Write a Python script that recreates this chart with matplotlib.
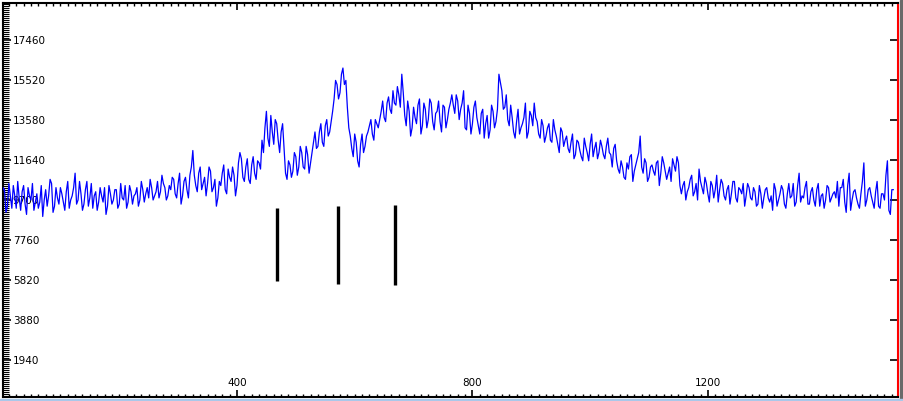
import numpy as np
import matplotlib
matplotlib.use("Agg")
import matplotlib.pyplot as plt
from matplotlib.ticker import MultipleLocator
from matplotlib.patches import Rectangle

# spectrum, one value every 5 channels
step = 5
counts = [
    9600, 10200, 9400, 9900, 10400, 9300, 9800, 10100, 9500, 10300,
    9700, 9200, 10000, 9600, 8900, 10200, 9900, 10500, 9400, 9800,
    10300, 9600, 10100, 9300, 9900, 11000, 9700, 10000, 9500, 10600,
    9800, 9300, 10100, 9600, 9900, 10300, 9400, 10000, 9700, 10200,
    9500, 9800, 10400, 9600, 10100, 9900, 10300, 9700, 10200, 10000,
    9800, 10300, 9900, 10600, 10100, 10500, 9700, 10400, 10800, 10000,
    10500, 9500, 10600, 10200, 10900, 12100, 10400, 11000, 10200, 10800,
    10500, 11100, 10300, 9400, 10600, 11000, 10200, 11200, 10600, 10900,
    10400, 12000, 10800, 11300, 10700, 11400, 11000, 11600, 11200, 12000,
    14000, 12300, 13000, 13600, 12600, 13000, 12200, 10700, 11400, 11100,
    11800, 11300, 12000, 11200, 11900, 11500, 12500, 12200, 13000, 12500,
    13300, 12800, 13500, 14600, 15300, 14900, 16100, 15500, 13200, 12200,
    12900, 11600, 12400, 12000, 12800, 13300, 12900, 13600, 13200, 14000,
    13700, 14400, 14100, 15000, 14300, 14800, 15800, 13800, 14500, 12800,
    14200, 13400, 14600, 13300, 14100, 13600, 14400, 13100, 14000, 13500,
    14300, 13200, 14100, 14800, 13900, 14500, 14100, 15000, 13100, 13900,
    13400, 14500, 13300, 13900, 12700, 13800, 13100, 14000, 13500, 15800,
    15000, 14200, 13600, 14300, 13000, 13500, 12900, 13400, 14400, 13000,
    13800, 14400, 13500, 12700, 13300, 12800, 13400, 12500, 13100, 12400,
    13200, 12300, 12800, 12000, 12900, 11900, 12500, 11800, 12700, 12000,
    12400, 11800, 12500, 12000, 12300, 11700, 12700, 11900, 12200, 11600,
    11000, 11300, 10700, 11200, 11900, 11100, 11700, 12800, 11000, 11500,
    10800, 11400, 10900, 11600, 11000, 11500, 10700, 11300, 11700, 11100,
    11500, 10000, 10600, 10100, 10700, 9900, 10500, 11200, 10300, 10800,
    10000, 10600, 9800, 10900, 10200, 10500, 9700, 10400, 10000, 10600,
    9600, 10200, 10500, 9900, 10300, 9700, 10100, 9500, 10000, 9800,
    10300, 9600, 9200, 10200, 9700, 10400, 9500, 10000, 9800, 10500,
    9600, 11000, 9900, 10300, 9500, 10100, 9700, 10200, 9400, 10000,
    9700, 10300, 9800, 10100, 10600, 10300, 10700, 9100, 11000, 9700,
    10200, 9500, 10000, 11500, 9700, 10300, 9600, 10100, 9400, 10000,
    9700, 11600, 9000, 10200,
]

# readings that sit half a step after each of the values above
counts_between = [
    10300, 9100, 10500, 9300, 9900, 10600, 9200, 10400, 9000, 9900,
    10500, 9600, 9300, 10400, 9700, 9400, 10700, 9100, 10300, 9500,
    10000, 9200, 10600, 9700, 10300, 9500, 10600, 9200, 10200, 9400,
    10500, 9900, 9200, 10300, 9600, 9000, 10400, 9500, 10200, 9300,
    10500, 9700, 9300, 10400, 9500, 10000, 9400, 10600, 9600, 10300,
    10700, 9700, 10100, 9800, 10900, 10300, 9900, 10200, 10700, 9800,
    11000, 9900, 10800, 9800,
    11300, 10900, 10100, 11300, 10500, 9900, 11300, 10100, 10700, 9800,
    10400, 11400, 10000, 10800, 11300, 9900,
    11500, 11700, 10600, 11700, 10500, 11800, 10700, 11500, 12600,
    13200, 12700, 13800, 12400, 13400, 12000, 13400,
    11000, 11600, 10800, 12000,
    10900, 12300, 11300, 12300, 11000,
    12000, 13000, 12300, 13400, 12300, 13600, 13000,
    14000, 15500, 14600, 15800, 15300,
    14200, 12800, 11800, 12500, 11300, 12900,
    12300, 13000, 13600, 12600, 13400,
    13600, 14500, 13500, 14700, 13900, 14400, 15200,
    14200, 14900, 13300, 14000, 13200, 13700, 14300, 12900, 14400, 13200,
    14600, 13500, 13900, 14500, 13000, 14200, 13600, 14400,
    14300, 14800, 13600, 14400, 13200, 14300, 12900, 14200, 13700, 12900,
    14100, 13400, 12700, 14300, 13200, 14100,
    15400, 14100, 14800, 13300,
    13700, 12700, 14100, 13200, 13700, 12700, 14000, 13300,
    13700, 12900, 13600, 12500, 13200, 12600, 13600, 12800, 12000, 13000,
    12600, 12200,
    12500, 11700, 12600, 12100, 11600, 12300, 11600, 12900, 12200, 11700,
    12600,
    11900, 12300, 12000, 11300, 12400, 11200,
    11600, 10800, 11500, 11800, 10600, 11400, 12000, 11300, 11700, 10600,
    11300, 11100, 11500, 10400, 11800, 11100, 11000, 10600, 11400, 11800,
    10400,
    10400, 9700, 10300, 10900, 10100, 9700, 10600, 10000, 10500, 9600,
    10400, 10200, 9600, 10700, 9900, 10200, 9500, 10600, 9800, 10300,
    10000, 9400, 10500, 9800,
    10300, 9400, 10400, 9300, 10200, 9800, 9900, 10500, 9400, 10000,
    10200, 9300, 10500, 9900, 9400, 10400, 9600, 9800, 10600, 9500,
    10300, 9400, 10500, 9900, 9300, 10400, 9600, 10000, 9800, 9400,
    10300, 9600, 10400, 9200, 10100, 9800, 9300, 10600, 9400, 10200,
    9900, 9300, 10600, 9300, 10000, 10900, 9200, 10200,
]

# reference markers
marker_pos = [468, 571, 669]
marker_top = [9310, 9410, 9460]
marker_bottom = [5770, 5630, 5580]

x_all = np.concatenate([np.arange(len(counts)) * step,
                        np.arange(len(counts_between)) * step + step / 2])
y_all = np.concatenate([counts, counts_between])
order = np.argsort(x_all)
x_all, y_all = x_all[order], y_all[order]

fig = plt.figure(figsize=(9.04, 4.01), dpi=100)
ax = fig.add_axes([3 / 904, 4 / 401, 895 / 904, 394 / 401])

ax.plot(x_all, y_all, color="#0000ff", linewidth=0.9, zorder=3)
ax.vlines(marker_pos, marker_bottom, marker_top, color="black", linewidth=2.4, zorder=3)

ax.set_xlim(2.5, 1523)
ax.set_ylim(145, 19254)

ax.xaxis.set_major_locator(MultipleLocator(400))
ax.xaxis.set_minor_locator(MultipleLocator(12.5))
ax.yaxis.set_major_locator(MultipleLocator(1940))
ax.yaxis.set_minor_locator(MultipleLocator(97))

ax.tick_params(which="both", direction="in", top=True, right=True, labelsize=7.5, colors="black")
ax.tick_params(axis="x", which="major", length=5, width=1.2, pad=-13.7)
ax.tick_params(axis="x", which="minor", length=2, width=1)
ax.tick_params(axis="y", which="major", length=6, width=1.2, pad=-7)
ax.tick_params(axis="y", which="minor", length=4, width=0.8, right=False)
for lbl in ax.get_yticklabels():
    lbl.set_horizontalalignment("left")

for side in ["left", "top", "bottom"]:
    ax.spines[side].set_linewidth(1.5)
ax.spines["right"].set_color("red")
ax.spines["right"].set_linewidth(1.5)

# window border on the right and bottom
fig.patches.append(Rectangle((900 / 904, 0), 4 / 904, 1, transform=fig.transFigure,
                             color="#6a6a6a", zorder=5))
fig.patches.append(Rectangle((0, 0), 1, 2 / 401, transform=fig.transFigure,
                             color="#a9c8ea", zorder=5))

fig.savefig("out.png", dpi=100)
